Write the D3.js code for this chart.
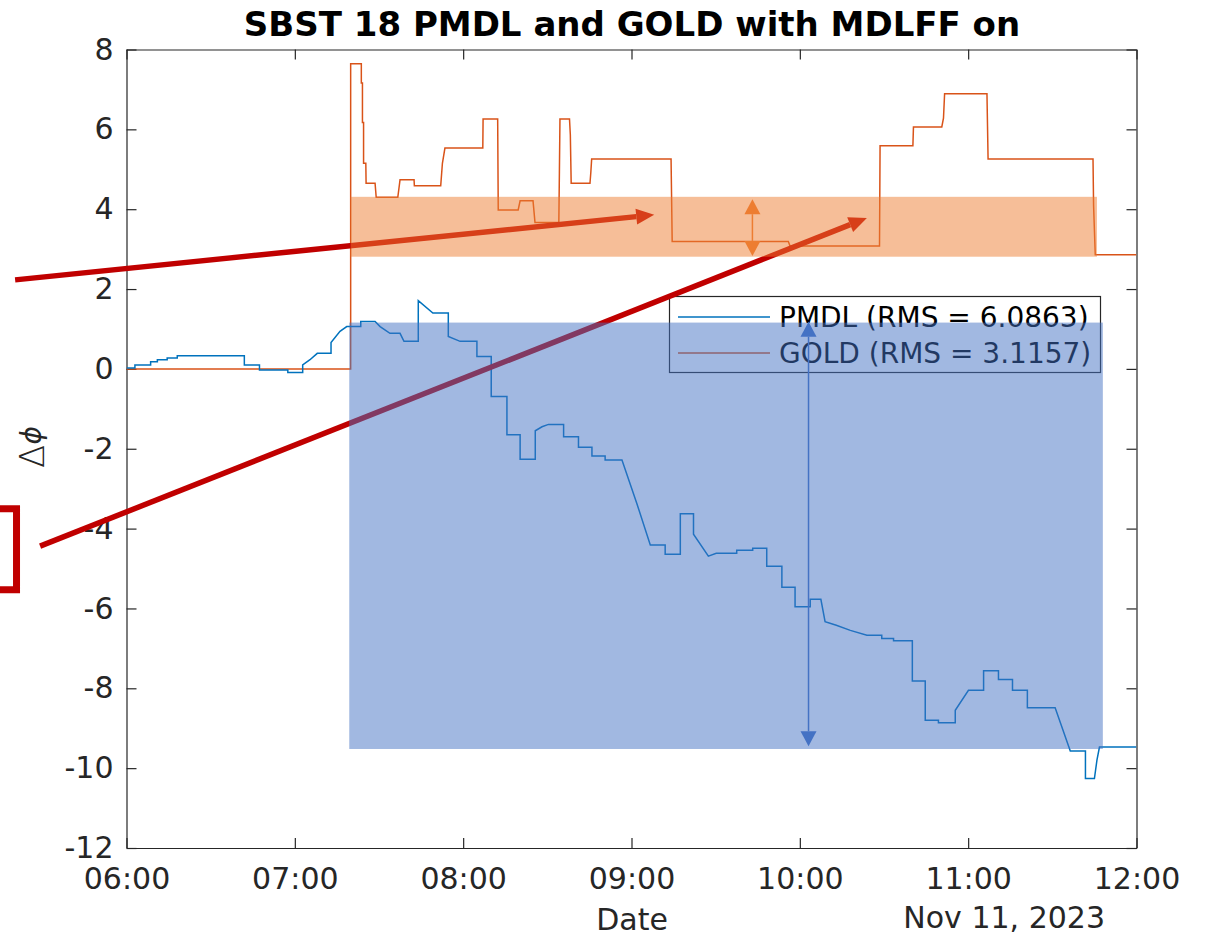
<!DOCTYPE html>
<html>
<head>
<meta charset="utf-8">
<script src="https://cdn.jsdelivr.net/npm/d3@7"></script>
<style>
body { margin: 0; background: #fff; }
svg { display: block; font-family: "DejaVu Sans", sans-serif; }
</style>
</head>
<body>
<svg id="chart" width="1212" height="938"></svg>
<script>
// minutes after 06:00 on Nov 11, 2023 and phase values
var pmdlMin = [0, 3.0, 3.0, 8.6, 8.6, 11.0, 11.0, 14.5, 14.5, 18.1, 18.1, 42.0, 42.0, 47.4, 47.4, 57.5, 57.5, 62.8,
  62.8, 65.4, 68.0, 72.9, 72.9, 76.1, 78.5, 83.5, 83.5, 88.6, 90.4, 93.9, 97.5, 98.9, 104.0, 104.0, 109.2, 114.7,
  114.7, 118.9, 124.9, 124.9, 130.0, 130.0, 135.6, 135.6, 140.3, 140.3, 145.7, 145.7, 148.1, 150.4, 155.8, 155.8,
  161.1, 161.1, 165.9, 165.9, 170.6, 170.6, 176.6, 181.9, 186.7, 192.0, 192.0, 197.4, 197.4, 202.1, 202.1, 207.4,
  210.2, 217.5, 217.5, 223.2, 223.2, 228.2, 228.2, 233.6, 233.6, 238.3, 238.3, 243.7, 243.7, 247.5, 249.0, 253.0,
  258.0, 263.9, 269.2, 269.2, 273.4, 273.4, 280.1, 280.1, 284.7, 284.7, 289.4, 289.4, 295.4, 295.4, 300.1, 305.5,
  305.5, 310.8, 310.8, 315.8, 315.8, 321.1, 321.1, 331.0, 336.4, 341.8, 341.8, 345.0, 345.9, 346.8, 360];
var pmdlVal = [0.02, 0.02, 0.10, 0.10, 0.18, 0.18, 0.23, 0.23, 0.27, 0.27, 0.33, 0.33, 0.10, 0.10, -0.03, -0.03, -0.09, -0.09,
  0.10, 0.23, 0.39, 0.39, 0.66, 0.94, 1.06, 1.06, 1.19, 1.19, 1.06, 0.89, 0.89, 0.69, 0.69, 1.71, 1.40, 1.40,
  0.81, 0.69, 0.69, 0.31, 0.31, -0.69, -0.69, -1.65, -1.65, -2.26, -2.26, -1.55, -1.45, -1.39, -1.39, -1.70,
  -1.70, -1.96, -1.96, -2.18, -2.18, -2.28, -2.28, -3.37, -4.41, -4.41, -4.64, -4.64, -3.63, -3.63, -4.14, -4.69,
  -4.62, -4.62, -4.54, -4.54, -4.49, -4.49, -4.94, -4.94, -5.47, -5.47, -5.96, -5.96, -5.77, -5.77, -6.33, -6.42,
  -6.55, -6.67, -6.67, -6.75, -6.75, -6.81, -6.81, -7.82, -7.82, -8.80, -8.80, -8.86, -8.86, -8.55, -8.05, -8.05,
  -7.56, -7.56, -7.78, -7.78, -8.05, -8.05, -8.49, -8.49, -9.57, -9.57, -10.26, -10.26, -9.80, -9.47, -9.47];

var goldMin = [0, 79.9, 79.9, 83.7, 83.7, 84.1, 84.1, 84.5, 84.5, 85.3, 85.4, 88.6, 89.0, 96.7, 97.5, 102.5, 102.6, 112.0, 112.6, 113.5,
  127.0, 127.1, 132.3, 132.4, 132.5, 139.6, 140.3, 144.9, 145.6, 154.1, 154.3, 154.5, 157.9, 158.2, 158.5, 165.2,
  165.5, 165.8, 194.1, 194.3, 194.5, 235.9, 236.5, 268.4, 268.5, 268.6, 280.3, 280.5, 290.6, 291.2, 291.6, 306.7,
  306.9, 307.1, 344.5, 344.7, 345.3, 360];
var goldVal = [0, 0, 7.64, 7.64, 7.16, 7.16, 6.17, 6.17, 5.15, 5.15, 4.65, 4.65, 4.30, 4.30, 4.74, 4.74, 4.59, 4.59, 5.15, 5.53,
  5.53, 6.26, 6.26, 5.11, 3.98, 3.98, 4.21, 4.21, 3.67, 3.67, 4.92, 6.26, 6.26, 5.86, 4.65, 4.65,
  4.92, 5.26, 5.26, 4.24, 3.19, 3.19, 3.08, 3.08, 4.34, 5.59, 5.59, 6.06, 6.06, 6.28, 6.89, 6.89,
  6.07, 5.26, 5.26, 4.09, 2.86, 2.86];

var seriesNames = ["PMDL (RMS = 6.0863)", "GOLD (RMS = 3.1157)"];
var xTickLabels = ["06:00", "07:00", "08:00", "09:00", "10:00", "11:00", "12:00"];
var yTicks = [-12, -10, -8, -6, -4, -2, 0, 2, 4, 6, 8];

// annotation overlays, in data units (minutes, phase)
var goldBand = [79.9, 345.9, 2.81, 4.31];
var pmdlBand = [79.4, 348.0, -9.52, 1.16];
var redArrows = [[-39.7, 2.23, 188.1, 3.86], [-30.8, -4.44, 263.9, 3.78]];
var spanArrows = [[223.1, 4.25, 2.83, "#ED7D31"], [243.1, 1.18, -9.45, "#4472C4"]];
var bracket = [-60, -39.2, -3.50, -5.53];

var pL = 126.5, pR = 1136.5, pT = 49.5, pB = 848;
var t0 = new Date(2023, 10, 11, 6, 0);
function at(m) { return new Date(t0.getTime() + m * 60000); }

var x = d3.scaleTime().domain([at(0), at(360)]).range([pL, pR]);
var y = d3.scaleLinear().domain([-12, 8]).range([pB, pT]);
var parseHM = d3.timeParse("%H:%M");
var xTicks = xTickLabels.map(function (s) { var d = parseHM(s); return at((d.getHours() - 6) * 60 + d.getMinutes()); });

var svg = d3.select("#chart");
var axCol = "#262626";

svg.append("defs").append("clipPath").attr("id", "plotclip")
  .append("rect").attr("x", pL).attr("y", pT).attr("width", pR - pL).attr("height", pB - pT);

function styleAxis(g) {
  g.selectAll("path,line").attr("stroke", axCol).attr("stroke-width", 1.2);
  g.selectAll("text").attr("fill", axCol).style("font-size", "30px").style("font-family", "DejaVu Sans");
}

svg.append("g").attr("transform", "translate(0," + pB + ")")
  .call(d3.axisBottom(x).tickValues(xTicks).tickFormat(function (d, i) { return xTickLabels[i]; })
    .tickSizeInner(-10).tickSizeOuter(0).tickPadding(20))
  .call(styleAxis);
svg.append("g").attr("transform", "translate(0," + pT + ")")
  .call(d3.axisTop(x).tickValues(xTicks).tickFormat("").tickSizeInner(-10).tickSizeOuter(0))
  .call(styleAxis);
svg.append("g").attr("transform", "translate(" + pL + ",0)")
  .call(d3.axisLeft(y).tickValues(yTicks).tickFormat(function (d) { return String(d); })
    .tickSizeInner(-10).tickSizeOuter(0).tickPadding(13))
  .call(styleAxis);
svg.append("g").attr("transform", "translate(" + pR + ",0)")
  .call(d3.axisRight(y).tickValues(yTicks).tickFormat("").tickSizeInner(-10).tickSizeOuter(0))
  .call(styleAxis);

var line = d3.line().x(function (d) { return x(at(d[0])); }).y(function (d) { return y(d[1]); });
var plot = svg.append("g").attr("clip-path", "url(#plotclip)");
plot.append("path").datum(d3.zip(goldMin, goldVal)).attr("d", line)
  .attr("fill", "none").attr("stroke", "#D95319").attr("stroke-width", 1.5);
plot.append("path").datum(d3.zip(pmdlMin, pmdlVal)).attr("d", line)
  .attr("fill", "none").attr("stroke", "#0072BD").attr("stroke-width", 1.5);

// title and labels
svg.append("text").attr("x", 632).attr("y", 36).attr("text-anchor", "middle")
  .style("font-size", "34px").style("font-weight", "bold").attr("fill", "#000")
  .text("SBST 18 PMDL and GOLD with MDLFF on");
svg.append("text").attr("x", 632).attr("y", 930).attr("text-anchor", "middle")
  .style("font-size", "30px").attr("fill", axCol).text("Date");
svg.append("text").attr("x", 1105).attr("y", 928).attr("text-anchor", "end")
  .style("font-size", "30px").attr("fill", axCol).text("Nov 11, 2023");
var yl = svg.append("text").attr("transform", "translate(44,447) rotate(-90)").attr("text-anchor", "middle")
  .style("font-size", "34px").attr("fill", axCol);
yl.append("tspan").style("font-weight", "300").text("Δ");
yl.append("tspan").style("font-style", "italic").style("font-size", "28px").attr("dy", -3).text("ϕ");

// legend
var lg = svg.append("g");
lg.append("rect").attr("x", 669.5).attr("y", 296.5).attr("width", 431).attr("height", 76)
  .attr("fill", "#fff").attr("stroke", axCol).attr("stroke-width", 1.2);
[["#0072BD", 317], ["#D95319", 353]].forEach(function (s, i) {
  lg.append("line").attr("x1", 678).attr("x2", 770).attr("y1", s[1]).attr("y2", s[1])
    .attr("stroke", s[0]).attr("stroke-width", 1.5);
  lg.append("text").attr("x", 779).attr("y", s[1] + 10).style("font-size", "28px").attr("fill", "#000")
    .text(seriesNames[i]);
});

// overlays
function head(x1, y1, x2, y2, len, half) {
  var dx = x2 - x1, dy = y2 - y1, L = Math.hypot(dx, dy), ux = dx / L, uy = dy / L;
  var bx = x2 - ux * len, by = y2 - uy * len;
  return { base: [bx, by], pts: [[x2, y2], [bx - uy * half, by + ux * half], [bx + uy * half, by - ux * half]] };
}
var ov = svg.append("g");
redArrows.forEach(function (a) {
  var x1 = x(at(a[0])), y1 = y(a[1]), x2 = x(at(a[2])), y2 = y(a[3]);
  var h = head(x1, y1, x2, y2, 18, 8);
  ov.append("line").attr("x1", x1).attr("y1", y1).attr("x2", h.base[0]).attr("y2", h.base[1])
    .attr("stroke", "#C00000").attr("stroke-width", 5.5);
  ov.append("polygon").attr("points", h.pts.join(" ")).attr("fill", "#C00000");
});
ov.append("path")
  .attr("d", "M" + x(at(bracket[0])) + "," + y(bracket[2]) + "H" + x(at(bracket[1])) + "V" + y(bracket[3]) +
    "H" + x(at(bracket[0])))
  .attr("fill", "none").attr("stroke", "#C00000").attr("stroke-width", 7);

[[goldBand, "#ED7D31"], [pmdlBand, "#4472C4"]].forEach(function (b) {
  var r = b[0];
  ov.append("rect").attr("x", x(at(r[0]))).attr("y", y(r[3]))
    .attr("width", x(at(r[1])) - x(at(r[0]))).attr("height", y(r[2]) - y(r[3]))
    .attr("fill", b[1]).attr("fill-opacity", 0.5);
});

spanArrows.forEach(function (a) {
  var xx = x(at(a[0])), ya = y(a[1]), yb = y(a[2]);
  var h1 = head(xx, yb, xx, ya, 15, 8), h2 = head(xx, ya, xx, yb, 15, 8);
  ov.append("line").attr("x1", xx).attr("x2", xx).attr("y1", h1.base[1]).attr("y2", h2.base[1])
    .attr("stroke", a[3]).attr("stroke-width", 1.5);
  ov.append("polygon").attr("points", h1.pts.join(" ")).attr("fill", a[3]);
  ov.append("polygon").attr("points", h2.pts.join(" ")).attr("fill", a[3]);
});
</script>
</body>
</html>
